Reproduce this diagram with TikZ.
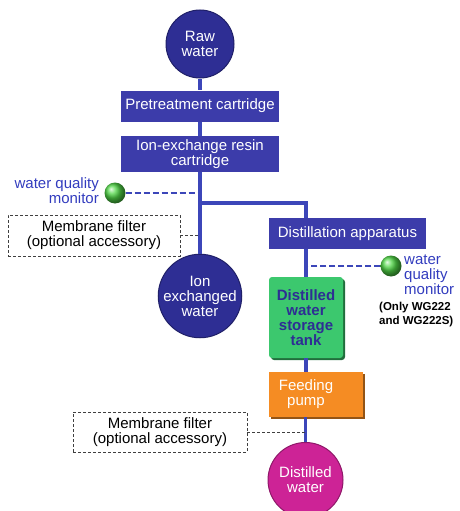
\documentclass[tikz,border=0pt]{standalone}
\usepackage{fontspec}
\setmainfont{Liberation Sans}
\usetikzlibrary{shadows}

\definecolor{boxblue}{RGB}{60,60,170}
\definecolor{navy}{RGB}{46,46,148}
\definecolor{flowblue}{RGB}{60,70,185}
\definecolor{tankgreen}{RGB}{60,200,110}
\definecolor{pumporange}{RGB}{245,140,35}
\definecolor{distmagenta}{RGB}{205,35,150}
\definecolor{labelblue}{RGB}{50,60,190}
\definecolor{ballgreen}{RGB}{80,215,70}

\tikzset{
  txt/.style={font=\fontsize{15}{15}\selectfont, align=center, inner sep=0pt},
  bluebox/.style={txt, rectangle, fill=boxblue, text=white, minimum width=158pt},
  waterdot/.style={txt, circle, draw=navy!70!black, line width=1pt, text=white},
  ball/.style={circle, ball color=ballgreen, minimum size=21pt, inner sep=0pt},
  membox/.style={txt, rectangle, draw=black!75, densely dashed, thick, fill=white, text=black},
  flow/.style={flowblue, line width=3.5pt},
  monline/.style={flowblue, line width=2pt, dash pattern=on 6pt off 3pt},
  memline/.style={black!75, thick, densely dashed},
  monlabel/.style={txt, text=labelblue}
}

\begin{document}
\begin{tikzpicture}[x=1pt,y=-1pt]
  \useasboundingbox (0,0) rectangle (459,511);

  % main column
  \node[waterdot, fill=navy, minimum size=68pt] (raw) at (200,44) {Raw\\water};
  \node[bluebox, minimum height=31pt] (pre) at (200,106) {Pretreatment cartridge};
  \node[bluebox, minimum height=36pt] (ionres) at (200,154) {Ion-exchange resin\\cartridge};
  \node[waterdot, fill=navy, minimum size=74pt] (ionw) at (200,296) {Ion\\exchanged\\water};

  % distillation branch
  \coordinate (split) at (200,203);
  \node[bluebox, minimum width=157pt, minimum height=31pt] (dist) at (347.5,233.5) {Distillation apparatus};
  \node[txt, rectangle, rounded corners=3pt, fill=tankgreen, text=navy, font=\fontsize{15}{15}\selectfont\bfseries,
        minimum width=74pt, minimum height=81pt,
        drop shadow={shadow xshift=2pt, shadow yshift=-2pt, fill=tankgreen!55!black, opacity=1}]
        (tank) at (306,317.5) {Distilled\\water\\storage\\tank};
  \node[rectangle, fill=pumporange, minimum width=94pt, minimum height=45pt, inner sep=0pt,
        drop shadow={shadow xshift=2pt, shadow yshift=-2pt, fill=pumporange!60!black, opacity=1}]
        (pump) at (316,394.5) {};
  \node[txt, text=white] (pumptxt) at (306,394.5) {Feeding\\pump};
  \node[waterdot, fill=distmagenta, draw=distmagenta!70!black, minimum size=75pt] (distw) at (305.5,480) {Distilled\\water};

  % monitors
  \node[ball] (wqm1) at (115,193) {};
  \node[monlabel, anchor=east, align=right] (wqm1lbl) at (99,191) {water quality\\monitor};
  \node[ball] (wqm2) at (391,266) {};
  \node[monlabel, anchor=west, align=left] (wqm2lbl) at (404,275) {water\\quality\\monitor};
  \node[txt, anchor=west, align=left, font=\fontsize{11.5}{14.5}\selectfont\bfseries] (only) at (379,314.5) {(Only WG222\\and WG222S)};

  % membrane filters
  \node[membox, minimum width=172pt, minimum height=41pt] (mem1) at (94,235.5) {Membrane filter\\(optional accessory)};
  \node[membox, minimum width=174pt, minimum height=40pt] (mem2) at (160,432) {Membrane filter\\(optional accessory)};

  % flow lines
  \draw[flow] (raw) -- (pre);
  \draw[flow] (pre) -- (ionres);
  \draw[flow] (ionres) -- (ionw);
  \draw[flow] (split) -| (tank |- dist.north);
  \draw[flow] (dist.south -| tank) -- (tank);
  \draw[flow] (tank) -- (pump.north -| tank);
  \draw[flow] (pump.south -| distw) -- (distw);

  \draw[monline] (wqm1) -- (wqm1 -| ionres);
  \draw[monline] (wqm2) -- (wqm2 -| tank);
  \draw[memline] (mem1) -- (mem1 -| ionres);
  \draw[memline] (mem2) -- (mem2 -| distw);
\end{tikzpicture}
\end{document}
